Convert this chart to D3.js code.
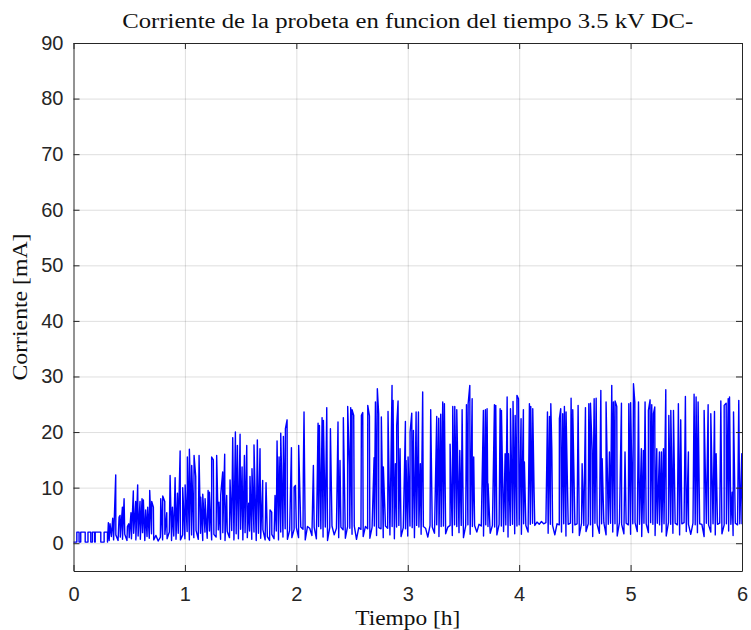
<!DOCTYPE html>
<html>
<head>
<meta charset="utf-8">
<script src="https://cdn.jsdelivr.net/npm/d3@7"></script>
<style>
  body { margin: 0; background: #fff; }
  .axis text { font-family: "Liberation Sans", Arial, sans-serif; font-size: 20px; fill: #262626; }
  .axis path, .axis line { stroke: #262626; }
  .grid line { stroke: #262626; stroke-opacity: 0.15; }
  .grid path { display: none; }
  .lbl { font-family: "Liberation Serif", "Times New Roman", serif; font-size: 20px; fill: #111; }
</style>
</head>
<body>
<div id="plot"></div>
<script>
// axis ticks
var xTicks = [0, 1, 2, 3, 4, 5, 6];
var yTicks = [0, 10, 20, 30, 40, 50, 60, 70, 80, 90];

// slow current level, sampled every 0.02 h from t = 0
var baseStep = 0.02;
var baseline = [
  0.2,0.2,2.0,0.2,2.0,2.0,0.2,2.0,0.2,2.0,
  2.0,2.0,2.0,0.2,2.0,2.0,0.5,1.2,0.6,1.5,
  0.5,1.1,0.7,1.6,0.5,1.0,0.8,1.8,0.6,1.3,
  0.7,1.9,0.5,1.2,0.9,1.7,0.6,1.4,0.4,1.1,
  0.6,1.6,0.8,2.0,0.5,1.3,0.7,1.8,0.6,1.5,
  0.8,2.1,0.6,1.5,1.0,2.3,0.7,1.8,0.5,2.0,
  0.9,2.2,0.6,1.6,1.1,2.4,0.7,1.9,0.5,2.1,
  1.0,2.3,0.6,1.7,0.8,2.5,0.6,1.9,1.0,2.2,
  0.7,2.0,0.5,1.8,0.9,2.4,0.6,1.2,0.5,1.6,
  0.8,2.2,0.6,2.0,1.1,2.6,0.7,2.3,1.0,2.5,
  2.8,1.0,2.9,2.5,0.6,3.0,2.7,1.4,2.9,0.8,
  3.0,2.6,1.1,2.9,0.5,2.8,3.1,1.5,2.7,1.0,
  2.9,2.4,0.9,3.0,2.7,1.6,3.1,0.7,2.8,2.5,
  1.2,3.0,2.6,0.9,2.9,3.1,1.4,2.8,2.6,1.0,
  3.1,2.7,1.5,3.0,0.8,2.9,3.2,1.2,2.8,2.6,
  1.3,3.1,2.8,1.0,3.2,2.9,1.6,3.0,2.7,1.1,
  3.2,2.9,1.8,3.3,1.2,3.0,3.1,1.7,2.9,3.2,
  1.4,3.3,3.0,1.9,3.2,1.0,3.1,3.3,1.6,3.0,
  3.2,2.0,3.4,3.1,1.3,3.3,3.0,1.8,3.2,2.9,
  1.5,3.4,3.1,2.1,3.3,1.1,3.2,3.4,1.7,3.1,
  3.3,1.6,3.5,3.2,2.0,3.4,3.6,3.2,3.8,3.4,
  3.9,3.5,3.7,1.8,3.4,3.2,1.5,3.5,3.3,2.0,
  3.5,1.3,3.4,3.6,1.9,3.3,3.5,1.4,3.6,3.2,
  2.1,3.5,3.3,1.2,3.6,3.4,1.8,3.5,3.7,1.5,
  3.4,3.6,2.0,3.5,1.3,3.7,3.4,1.7,3.6,3.3,
  1.6,3.5,3.7,2.1,3.4,1.2,3.6,3.5,1.9,3.7,
  3.4,1.4,3.6,3.3,2.0,3.5,1.3,3.7,3.4,1.8,
  3.6,3.3,1.5,3.5,3.7,2.1,3.4,1.6,3.6,3.3,
  1.9,3.5,3.4,1.2,3.6,3.3,2.0,3.5,1.5,3.4,
  3.6,1.7,3.3,3.5,2.2,3.4,1.4,3.6,3.3,3.5,
  3.4
];

// square on/off steps at the start of the test: [start h, end h]
var stepLow = 0.2, stepHigh = 2.0;
var steps = [[0.03,0.05],[0.065,0.105],[0.13,0.155],[0.17,0.19],[0.195,0.245],[0.275,0.305]];

// current spikes: [time h, peak mA]
var spikes = [
  [0.313,3.7],[0.328,3.5],[0.352,4.5],[0.379,12.3],[0.409,4.7],[0.418,5.0],[0.439,6.5],[0.454,8.0],
  [0.484,3.0],[0.496,3.5],[0.516,5.5],[0.537,9.4],[0.558,7.5],[0.576,10.5],[0.597,7.5],[0.615,8.0],
  [0.627,7.8],[0.648,6.0],[0.666,6.5],[0.684,9.5],[0.702,7.5],[0.717,6.5],[0.783,8.0],[0.801,8.5],
  [0.819,7.5],[0.837,5.5],[0.867,12.2],[0.888,6.5],[0.912,11.8],[0.933,9.0],[0.957,16.6],[0.980,10.0],
  [1.002,10.5],[1.022,15.5],[1.040,16.9],[1.061,14.0],[1.082,15.8],[1.097,12.0],[1.127,15.8],[1.142,8.3],
  [1.160,8.8],[1.181,8.0],[1.208,9.5],[1.220,9.2],[1.240,15.5],[1.255,15.0],[1.285,15.8],[1.306,7.4],
  [1.321,8.6],[1.339,12.8],[1.357,16.0],[1.375,8.6],[1.405,11.4],[1.429,19.0],[1.453,20.0],[1.471,17.6],
  [1.495,19.6],[1.513,13.7],[1.534,15.8],[1.555,17.6],[1.572,7.2],[1.584,12.0],[1.602,13.4],[1.620,17.7],
  [1.650,18.6],[1.674,17.0],[1.698,11.3],[1.728,10.9],[1.764,6.0],[1.779,5.6],[1.809,8.6],[1.827,18.4],
  [1.845,15.5],[1.860,19.8],[1.884,19.2],[1.902,20.6],[1.917,22.2],[1.956,17.2],[1.980,10.1],[1.992,10.4],
  [2.021,17.6],[2.063,13.4],[2.069,23.6],[2.153,14.0],[2.195,21.6],[2.207,21.2],[2.231,22.6],[2.243,22.1],
  [2.273,24.4],[2.306,20.6],[2.374,21.8],[2.392,14.9],[2.422,22.6],[2.461,24.6],[2.476,14.0],[2.488,24.4],
  [2.500,24.0],[2.515,23.0],[2.584,23.0],[2.596,23.5],[2.641,24.8],[2.656,22.9],[2.698,15.4],[2.710,25.4],
  [2.727,27.8],[2.739,23.3],[2.763,22.7],[2.781,13.7],[2.823,23.7],[2.859,28.4],[2.868,25.7],[2.889,14.3],
  [2.901,21.2],[2.913,25.6],[2.931,17.0],[2.979,21.9],[2.985,14.9],[3.003,15.5],[3.021,20.0],[3.036,23.4],
  [3.051,20.3],[3.069,14.0],[3.075,23.6],[3.096,23.6],[3.113,14.3],[3.134,27.2],[3.206,24.0],[3.260,22.8],
  [3.278,22.5],[3.296,23.2],[3.314,25.4],[3.329,25.1],[3.380,17.8],[3.404,24.6],[3.422,24.6],[3.440,24.0],
  [3.467,16.7],[3.488,24.0],[3.527,24.9],[3.542,25.1],[3.557,28.4],[3.578,26.0],[3.592,15.5],[3.679,23.9],
  [3.697,24.0],[3.712,24.2],[3.721,10.7],[3.778,24.9],[3.790,24.8],[3.829,24.2],[3.841,23.9],[3.874,16.1],
  [3.892,26.3],[3.904,16.1],[3.922,24.2],[3.945,25.5],[3.964,23.0],[3.980,26.6],[3.994,26.0],[4.017,22.4],
  [4.038,24.0],[4.047,14.6],[4.092,25.1],[4.104,24.6],[4.122,24.2],[4.134,9.2],[4.248,14.6],[4.254,23.6],
  [4.272,22.8],[4.284,25.1],[4.293,17.0],[4.361,22.4],[4.373,24.2],[4.391,23.3],[4.406,24.6],[4.421,23.6],
  [4.466,26.1],[4.481,24.0],[4.529,24.8],[4.565,14.3],[4.595,24.4],[4.625,25.1],[4.640,25.2],[4.655,16.7],
  [4.673,26.0],[4.691,26.1],[4.733,27.5],[4.745,15.2],[4.780,25.4],[4.810,16.4],[4.831,28.4],[4.846,25.4],
  [4.861,25.6],[4.876,24.6],[4.918,25.2],[4.950,16.4],[4.984,25.1],[5.000,25.3],[5.026,28.7],[5.038,25.4],
  [5.071,25.4],[5.097,17.0],[5.115,16.7],[5.130,25.4],[5.160,23.9],[5.175,25.8],[5.190,24.9],[5.205,23.3],
  [5.217,24.5],[5.235,17.0],[5.259,16.4],[5.277,16.4],[5.295,17.0],[5.316,27.6],[5.343,23.0],[5.361,23.9],
  [5.385,23.9],[5.429,25.1],[5.450,22.2],[5.492,26.4],[5.519,16.4],[5.570,26.8],[5.588,26.3],[5.606,25.4],
  [5.660,23.9],[5.696,24.9],[5.720,23.3],[5.753,23.7],[5.768,16.1],[5.810,25.6],[5.840,24.8],[5.858,25.2],
  [5.876,26.0],[5.888,26.3],[5.912,9.2],[5.924,23.6],[5.971,25.7],[5.998,16.1]
];

var margin = {top: 43, right: 9, bottom: 59, left: 73.5},
    width = 751 - margin.left - margin.right,
    height = 630 - margin.top - margin.bottom;

var svg = d3.select("#plot")
  .append("svg")
    .attr("width", 751)
    .attr("height", 630)
  .append("g")
    .attr("transform", "translate(" + margin.left + "," + margin.top + ")");

var x = d3.scaleLinear().domain([0, 6]).range([0, width]);
var y = d3.scaleLinear().domain([-5, 90]).range([height, 0]);

// grid
svg.append("g").attr("class", "grid")
  .attr("transform", "translate(0," + height + ")")
  .call(d3.axisBottom(x).tickValues(xTicks.slice(1, -1)).tickSize(-height).tickFormat(""));
svg.append("g").attr("class", "grid")
  .call(d3.axisLeft(y).tickValues(yTicks.slice(0, -1)).tickSize(-width).tickFormat(""));

// merge the slow level, the start steps and the spikes, in time order
var stepPts = [];
steps.forEach(function(s) {
  stepPts.push([s[0], stepLow], [s[0], stepHigh], [s[1], stepHigh], [s[1], stepLow]);
});
var points = baseline.map(function(v, i) { return [i * baseStep, v]; })
  .concat(stepPts, spikes)
  .sort(function(a, b) { return a[0] - b[0]; });

svg.append("path")
  .datum(points)
  .attr("fill", "none")
  .attr("stroke", "#0000ff")
  .attr("stroke-width", 1.4)
  .attr("stroke-linejoin", "round")
  .attr("d", d3.line()
    .x(function(d) { return x(d[0]); })
    .y(function(d) { return y(d[1]); }));

// box with inward ticks
svg.append("g").attr("class", "axis")
  .attr("transform", "translate(0," + height + ")")
  .call(d3.axisBottom(x).tickValues(xTicks).tickFormat(d3.format("d"))
    .tickSizeInner(-6).tickSizeOuter(0).tickPadding(16));
svg.append("g").attr("class", "axis")
  .call(d3.axisTop(x).tickValues(xTicks).tickSizeInner(-6).tickSizeOuter(0).tickFormat(""));
svg.append("g").attr("class", "axis")
  .call(d3.axisLeft(y).tickValues(yTicks).tickFormat(d3.format("d"))
    .tickSizeInner(-6).tickSizeOuter(0).tickPadding(10));
svg.append("g").attr("class", "axis")
  .attr("transform", "translate(" + width + ",0)")
  .call(d3.axisRight(y).tickValues(yTicks).tickSizeInner(-6).tickSizeOuter(0).tickFormat(""));

// title and axis labels
svg.append("text").attr("class", "lbl")
  .attr("text-anchor", "middle")
  .attr("x", width / 2)
  .attr("y", -15)
  .attr("textLength", 571)
  .attr("lengthAdjust", "spacingAndGlyphs")
  .text("Corriente de la probeta en funcion del tiempo 3.5 kV DC-");

svg.append("text").attr("class", "lbl")
  .attr("text-anchor", "middle")
  .attr("x", width / 2)
  .attr("y", height + 54)
  .attr("textLength", 105)
  .attr("lengthAdjust", "spacingAndGlyphs")
  .text("Tiempo [h]");

svg.append("text").attr("class", "lbl")
  .attr("text-anchor", "middle")
  .attr("transform", "rotate(-90)")
  .attr("x", -(307 - margin.top))
  .attr("y", -margin.left + 27)
  .attr("textLength", 147)
  .attr("lengthAdjust", "spacingAndGlyphs")
  .text("Corriente [mA]");
</script>
</body>
</html>
